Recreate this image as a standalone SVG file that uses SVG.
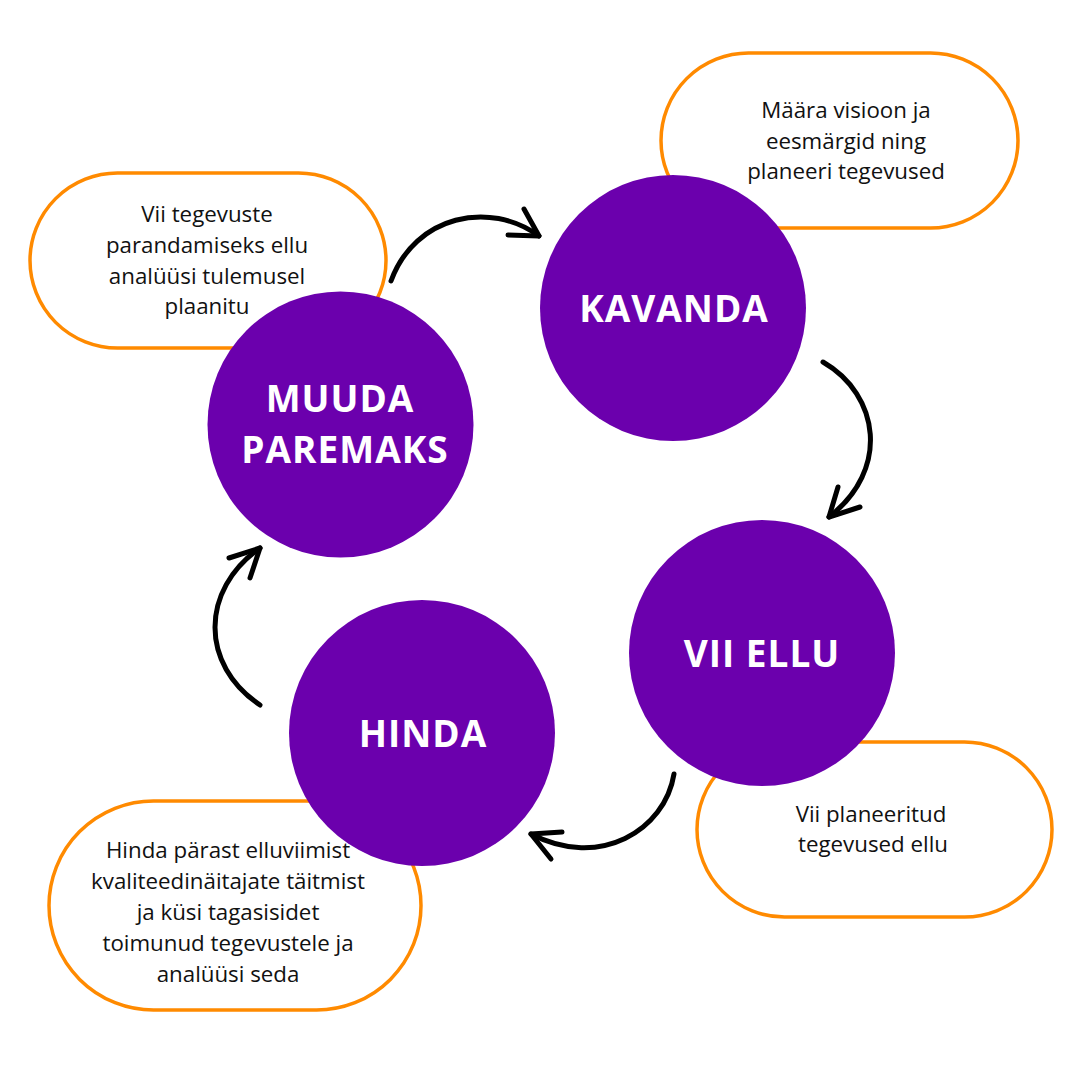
<svg xmlns="http://www.w3.org/2000/svg" width="1080" height="1080" viewBox="0 0 1080 1080">
<style>
.pill{fill:#fff;stroke:#ff8a00;stroke-width:3.5}
.circ{fill:#6b00ad}
.desc{font-family:"Open Sans","Liberation Sans",sans-serif;font-size:22.3px;fill:#111;text-anchor:middle}
.lbl{font-family:"Open Sans","Liberation Sans",sans-serif;font-size:37px;font-weight:700;fill:#fff;text-anchor:middle;letter-spacing:1px}
.arr{fill:none;stroke:#000;stroke-width:5;stroke-linecap:round;stroke-linejoin:round}
</style>
<rect width="1080" height="1080" fill="#fff"/>
<g id="note-kavanda">
<rect class="pill" x="661" y="53" width="357" height="175" rx="87.5"/>
<text class="desc"><tspan x="846" y="118">Määra visioon ja</tspan><tspan x="846" y="149">eesmärgid ning</tspan><tspan x="846" y="179">planeeri tegevused</tspan></text>
</g>
<g id="note-muuda">
<rect class="pill" x="30" y="173" width="356" height="175" rx="87.5"/>
<text class="desc"><tspan x="207" y="222">Vii tegevuste</tspan><tspan x="207" y="253">parandamiseks ellu</tspan><tspan x="207" y="284">analüüsi tulemusel</tspan><tspan x="207" y="314">plaanitu</tspan></text>
</g>
<g id="note-vii">
<rect class="pill" x="697" y="742" width="355" height="175" rx="87.5"/>
<text class="desc"><tspan x="871" y="822">Vii planeeritud</tspan><tspan x="873" y="852">tegevused ellu</tspan></text>
</g>
<g id="note-hinda">
<rect class="pill" x="49" y="801" width="372" height="209" rx="104.5"/>
<text class="desc"><tspan x="228" y="858">Hinda pärast elluviimist</tspan><tspan x="228" y="889">kvaliteedinäitajate täitmist</tspan><tspan x="228" y="920">ja küsi tagasisidet</tspan><tspan x="228" y="951">toimunud tegevustele ja</tspan><tspan x="228" y="982">analüüsi seda</tspan></text>
</g>
<g id="kavanda">
<circle class="circ" cx="673" cy="308" r="133"/>
<text class="lbl" x="674" y="322">KAVANDA</text>
</g>
<g id="muuda-paremaks">
<circle class="circ" cx="340.5" cy="424.5" r="133"/>
<text class="lbl"><tspan x="340" y="412">MUUDA</tspan><tspan x="345" y="463">PAREMAKS</tspan></text>
</g>
<g id="vii-ellu">
<circle class="circ" cx="762" cy="653" r="133"/>
<text class="lbl" x="762" y="667">VII ELLU</text>
</g>
<g id="hinda">
<circle class="circ" cx="422" cy="733" r="133"/>
<text class="lbl" x="423" y="747">HINDA</text>
</g>
<g id="connectors">
<path class="arr" d="M391,281 C415,215 490,200 539,236"/>
<path class="arr" d="M508,235 L539,236 L524,209"/>
<path class="arr" d="M823,362 C880,395 890,470 829,517"/>
<path class="arr" d="M838,487 L829,517 L860,507"/>
<path class="arr" d="M674,774 C665,830 600,870 531,834"/>
<path class="arr" d="M562,832 L531,834 L551,859"/>
<path class="arr" d="M260,705 C200,665 200,590 260,548"/>
<path class="arr" d="M229,558 L260,548 L250,578"/>
</g>
</svg>
